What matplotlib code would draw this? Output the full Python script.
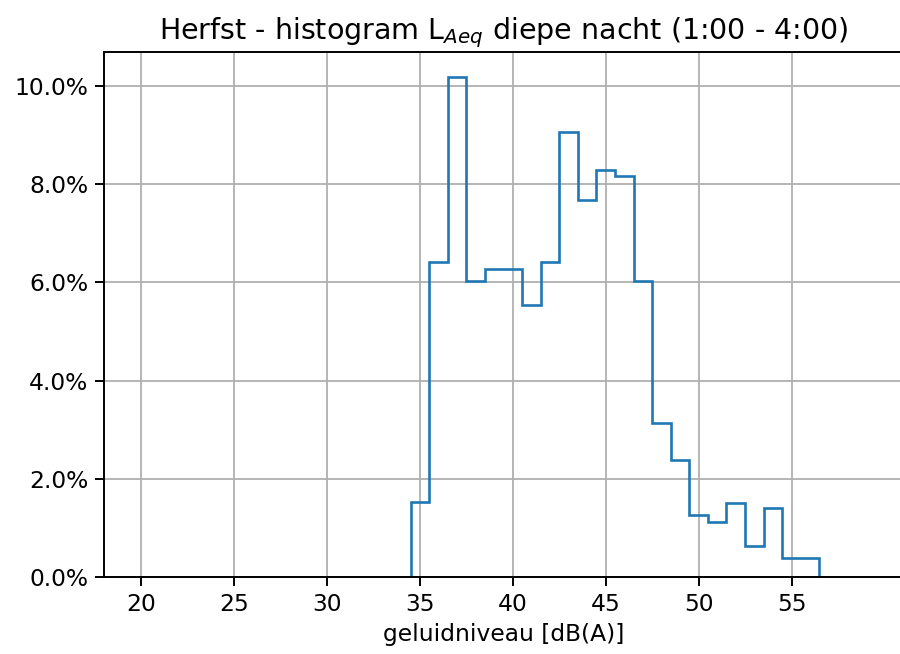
import matplotlib
matplotlib.use("Agg")
import matplotlib.pyplot as plt
from matplotlib.ticker import PercentFormatter

# bin edges in dB(A) and fraction of time per bin
bin_edges = [34.5, 35.5, 36.5, 37.5, 38.5, 39.5, 40.5, 41.5, 42.5, 43.5, 44.5,
             45.5, 46.5, 47.5, 48.5, 49.5, 50.5, 51.5, 52.5, 53.5, 54.5, 55.5, 56.5]
fractions = [0.0153, 0.0641, 0.1018, 0.0603, 0.0628, 0.0628, 0.0553, 0.0641,
             0.0906, 0.0767, 0.0828, 0.0817, 0.0603, 0.0314, 0.0238, 0.0126,
             0.0113, 0.0151, 0.0064, 0.0140, 0.0038, 0.0038]
xticks = [20, 25, 30, 35, 40, 45, 50, 55]

fig = plt.figure(figsize=(9, 6.54), dpi=100)
ax = fig.add_axes([104/900, 77/654, 799/900, 525/654])

ax.stairs(fractions, bin_edges, baseline=0, color="#1f77b4", linewidth=1.9)

ax.set_xlim(18, 61)
ax.set_ylim(0, 0.1069)
ax.set_xticks(xticks)
ax.set_yticks([0, 0.02, 0.04, 0.06, 0.08, 0.10])
ax.yaxis.set_major_formatter(PercentFormatter(xmax=1, decimals=1))
ax.grid(True, color="#b0b0b0", linewidth=1.3)
ax.set_axisbelow(True)
ax.tick_params(labelsize=16.8, length=6.5, width=1.4, pad=5)
for s in ax.spines.values():
    s.set_linewidth(1.4)

ax.set_title(r"Herfst - histogram L$_{Aeq}$ diepe nacht (1:00 - 4:00)", fontsize=20.5, pad=9)
ax.set_xlabel("geluidniveau [dB(A)]", fontsize=16.8, labelpad=5)

fig.savefig("out.png", dpi=100)
